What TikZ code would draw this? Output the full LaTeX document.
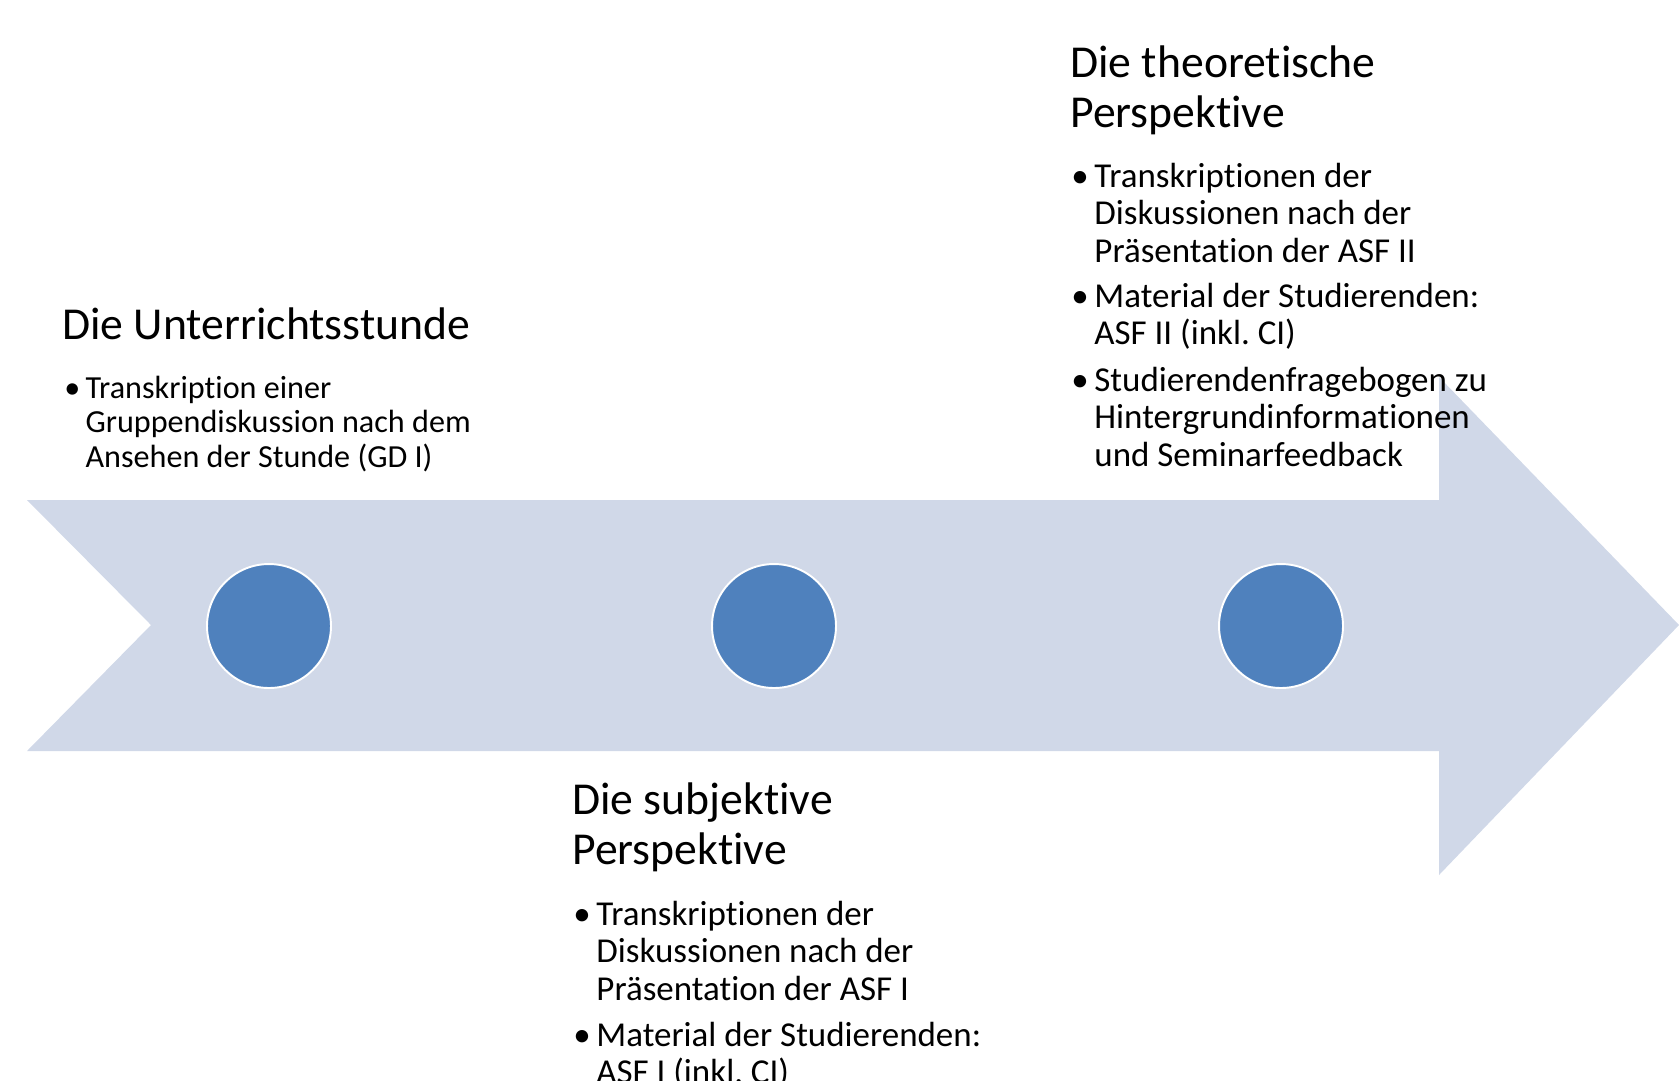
\documentclass[tikz,border=0pt]{standalone}
\usepackage{fontspec}
\setmainfont{Carlito}[Ligatures=NoCommon]
\usetikzlibrary{positioning}
\definecolor{pfeilblau}{HTML}{D0D8E8}
\definecolor{kreisblau}{HTML}{4F81BD}

% lines of one text block, first baseline = node baseline
\newcommand\zeilen[1]{\begin{tabular}[t]{@{}l@{}}#1\end{tabular}}
\newcommand\bul{\makebox[0.66em][l]{\textbullet}}

\tikzset{
  kopf/.style={anchor=base west, inner sep=0pt, font=\fontsize{26}{29}\selectfont},
  liste/.style={anchor=base west, inner sep=0pt, font=\fontsize{19.9}{21.5}\selectfont},
  klein/.style={anchor=base west, inner sep=0pt, font=\fontsize{18.3}{19.8}\selectfont},
  punkt/.style={circle, fill=kreisblau, draw=white, line width=1.1pt,
    minimum size=2.48cm, inner sep=0pt}
}

\begin{document}
\frenchspacing
\begin{tikzpicture}[x=0.02cm, y=-0.02cm]

\useasboundingbox (0,0) rectangle (1679,1080);

% Pfeil
\fill[pfeilblau] (27,500) -- (1439,500) -- (1439,377) -- (1679,625)
  -- (1439,875) -- (1439,751) -- (27,751) -- (151,625) -- cycle;

% Kreise
\node[punkt] (p1) at (269,626) {};
\node[punkt] (p2) at (774,626) {};
\node[punkt] (p3) at (1281,626) {};

% Block 1
\node[kopf] (kopfA) at (62,339) {\zeilen{Die Unterrichtsstunde}};
\node[klein] (listeA) at (64,398)
  {\bul\zeilen{Transkription einer\\Gruppendiskussion nach dem\\Ansehen der Stunde (GD I)}};

% Block 2
\node[kopf] (kopfB) at (572,814) {\zeilen{Die subjektive\\Perspektive}};
\node[liste] (listeB1) at (573,925)
  {\bul\zeilen{Transkriptionen der\\Diskussionen nach der\\Präsentation der ASF I}};
\node[liste] (listeB2) at (573,1046)
  {\bul\zeilen{Material der Studierenden:\\ASF I (inkl. CI)}};

% Block 3
\node[kopf] (kopfC) at (1070,77) {\zeilen{Die theoretische\\Perspektive}};
\node[liste] (listeC1) at (1071,187)
  {\bul\zeilen{Transkriptionen der\\Diskussionen nach der\\Präsentation der ASF II}};
\node[liste] (listeC2) at (1071,307)
  {\bul\zeilen{Material der Studierenden:\\ASF II (inkl. CI)}};
\node[liste] (listeC3) at (1071,391)
  {\bul\zeilen{Studierendenfragebogen zu\\Hintergrundinformationen\\und Seminarfeedback}};

\end{tikzpicture}
\end{document}
